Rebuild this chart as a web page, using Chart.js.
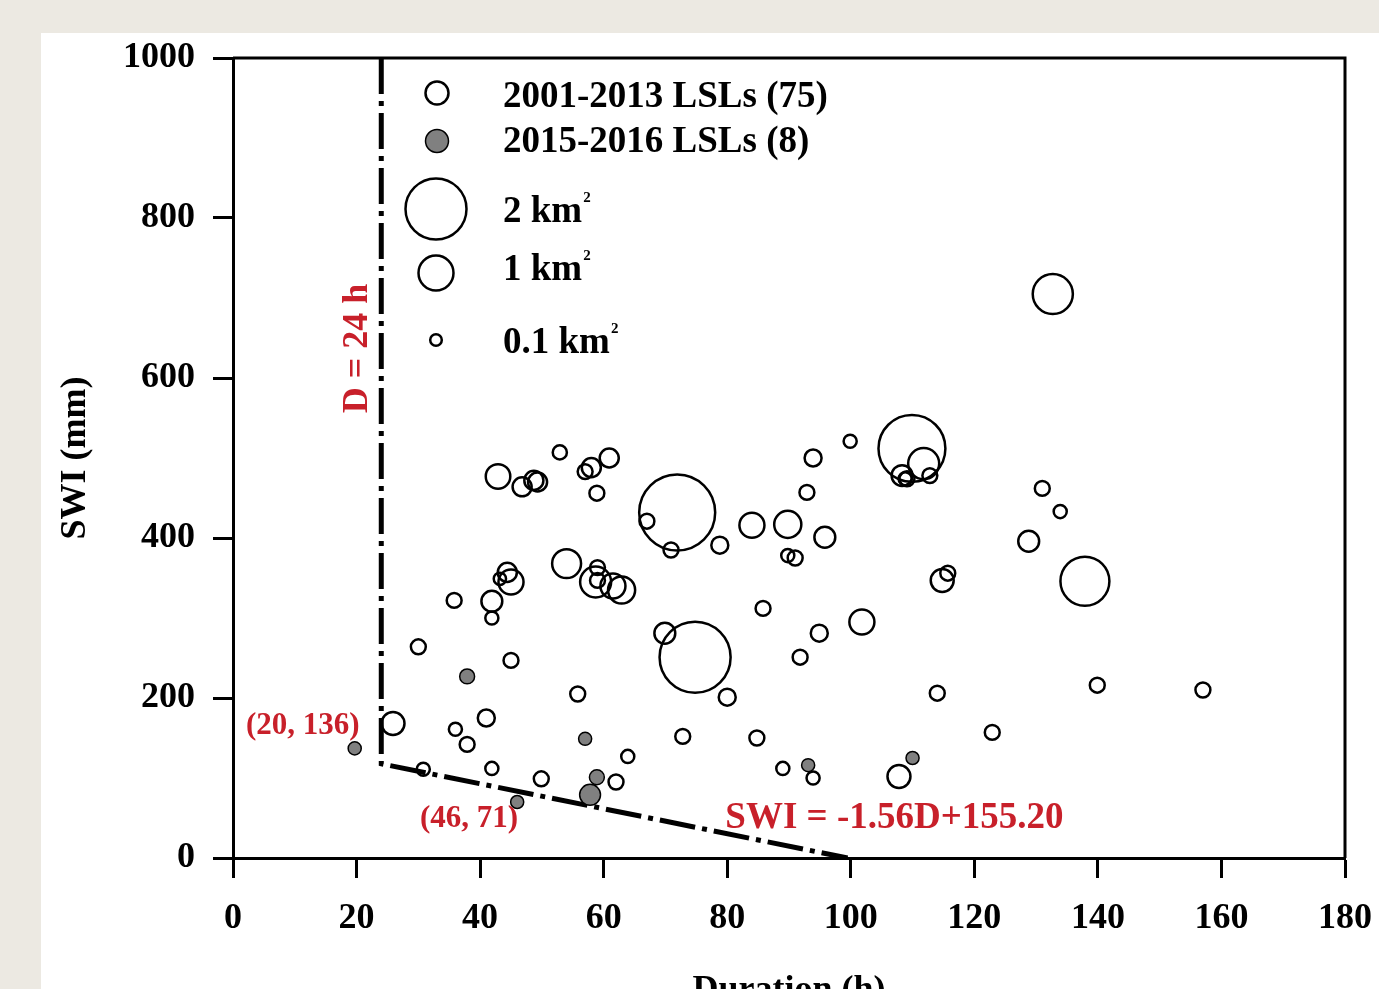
<!DOCTYPE html>
<html>
<head>
<meta charset="utf-8">
<script src="https://cdn.jsdelivr.net/npm/chart.js@4"></script>
<style>
  html, body { margin: 0; padding: 0; overflow: hidden; background: #ece9e2; }
  #panel { position: absolute; left: 41px; top: 33px; right: 0; bottom: 0; background: #fff; }
  #chart { position: absolute; left: 0; top: 0; }
</style>
</head>
<body>
<div id="panel"></div>
<canvas id="chart" width="1379" height="1030"></canvas>
<script>
// 2001-2013 landslides: duration (h), SWI (mm), area (km2)
const openD = [132.7, 109.9, 111.8, 108.3, 109.1, 112.8, 71.9, 74.8, 137.9, 52.9,
  42.9, 46.8, 48.7, 49.3, 57.0, 58.0, 60.9, 58.9, 67.0, 70.9,
  54.0, 59.0, 59.0, 58.7, 61.5, 62.9, 44.4, 43.2, 45.0, 35.8,
  41.9, 41.9, 30.0, 69.9, 25.9, 45.0, 36.0, 37.9, 41.0, 30.8,
  41.9, 49.9, 55.8, 62.0, 63.9, 99.9, 93.9, 92.9, 84.0, 89.8,
  95.8, 78.8, 89.8, 91.0, 85.8, 94.9, 101.8, 91.8, 114.8, 115.7,
  80.0, 114.0, 72.8, 84.8, 89.0, 93.9, 107.8, 122.9, 139.9, 131.0,
  133.9, 128.8, 157.0, 108.8];
const openSWI = [705, 512, 493, 478, 474, 478, 432, 251, 346, 507,
  477, 464, 472, 470, 483, 488, 500, 456, 421, 385,
  368, 363, 347, 345, 340, 335, 357, 349, 345, 322,
  321, 300, 264, 281, 168, 247, 161, 142, 175, 111,
  112, 99, 205, 95, 127, 521, 500, 457, 416, 417,
  401, 391, 378, 375, 312, 281, 295, 251, 347, 356,
  201, 206, 152, 150, 112, 100, 102, 157, 216, 462,
  433, 396, 210, 474];
const openArea = [1.12, 2.15, 0.77, 0.38, 0.15, 0.15, 2.50, 2.31, 1.46, 0.12,
  0.52, 0.31, 0.31, 0.31, 0.15, 0.31, 0.31, 0.15, 0.15, 0.15,
  0.69, 0.15, 0.15, 0.77, 0.54, 0.62, 0.31, 0.05, 0.54, 0.15,
  0.38, 0.08, 0.15, 0.38, 0.46, 0.15, 0.08, 0.15, 0.23, 0.08,
  0.08, 0.15, 0.15, 0.15, 0.08, 0.08, 0.23, 0.15, 0.54, 0.62,
  0.38, 0.23, 0.08, 0.15, 0.15, 0.23, 0.54, 0.15, 0.46, 0.15,
  0.23, 0.15, 0.15, 0.15, 0.08, 0.08, 0.46, 0.15, 0.15, 0.15,
  0.08, 0.38, 0.15, 0.08];

// 2015-2016 landslides
const newD = [19.7, 37.9, 46.0, 57.0, 58.9, 57.8, 93.1, 110.0];
const newSWI = [137, 227, 70, 149, 101, 79, 116, 125];
const newArea = [0.08, 0.15, 0.08, 0.08, 0.15, 0.38, 0.08, 0.08];

// threshold: D = 24 h and SWI = -1.56D + 155.20
const minD = 24;
const slope = -1.56;
const intercept = 155.20;

const legendAreas = [2, 1, 0.1];
const xTicks = [0, 20, 40, 60, 80, 100, 120, 140, 160, 180];
const yTicks = [0, 200, 400, 600, 800, 1000];

const RED = '#c8202a';
const SERIF = '"Liberation Serif", "Times New Roman", serif';

function radiusFor(a) {
  return 5.5 + 13 * a;
}

function bubbles(xs, ys, areas) {
  return xs.map((x, i) => ({ x: x, y: ys[i], r: radiusFor(areas[i]) }));
}

const thresholdLine = [
  { x: minD, y: 1000 },
  { x: minD, y: slope * minD + intercept },
  { x: -intercept / slope, y: 0 }
];

const overlay = {
  id: 'overlay',
  afterDatasetsDraw(chart) {
    const { ctx, chartArea: a, scales: { x, y } } = chart;
    ctx.save();

    // frame top and right
    ctx.strokeStyle = '#000';
    ctx.lineWidth = 3;
    ctx.beginPath();
    ctx.moveTo(a.left, a.top);
    ctx.lineTo(a.right, a.top);
    ctx.lineTo(a.right, a.bottom);
    ctx.stroke();

    // legend
    const cx = a.left + 204;
    const tx = a.left + 270;
    ctx.fillStyle = '#000';
    ctx.textAlign = 'left';
    ctx.textBaseline = 'alphabetic';
    ctx.font = 'bold 37px ' + SERIF;

    ctx.lineWidth = 2.5;
    ctx.beginPath();
    ctx.arc(cx, a.top + 35, 11.5, 0, Math.PI * 2);
    ctx.stroke();
    ctx.fillText('2001-2013 LSLs (75)', tx, a.top + 49);

    ctx.beginPath();
    ctx.arc(cx, a.top + 83, 11.5, 0, Math.PI * 2);
    ctx.fillStyle = '#808080';
    ctx.fill();
    ctx.lineWidth = 1.5;
    ctx.stroke();
    ctx.fillStyle = '#000';
    ctx.fillText('2015-2016 LSLs (8)', tx, a.top + 94);

    const sizeRows = [
      { cy: a.top + 151, base: a.top + 164, label: '2 km' },
      { cy: a.top + 215, base: a.top + 222, label: '1 km' },
      { cy: a.top + 282, base: a.top + 295, label: '0.1 km' }
    ];
    ctx.lineWidth = 2.5;
    sizeRows.forEach((row, i) => {
      ctx.beginPath();
      ctx.arc(cx - 1, row.cy, radiusFor(legendAreas[i]) - 1, 0, Math.PI * 2);
      ctx.stroke();
      ctx.font = 'bold 37px ' + SERIF;
      ctx.fillText(row.label, tx, row.base);
      const w = ctx.measureText(row.label).width;
      ctx.font = 'bold 15px ' + SERIF;
      ctx.fillText('2', tx + w + 1, row.base - 20);
    });

    // red annotations
    ctx.fillStyle = RED;
    ctx.font = 'bold 31px ' + SERIF;
    ctx.textAlign = 'right';
    ctx.fillText('(20, 136)', x.getPixelForValue(20) + 3, y.getPixelForValue(136) - 15);
    ctx.fillText('(46, 71)', x.getPixelForValue(46) + 1, y.getPixelForValue(71) + 26);

    ctx.font = 'bold 37px ' + SERIF;
    ctx.textAlign = 'left';
    ctx.fillText('SWI = -1.56D+155.20', x.getPixelForValue(79.7), y.getPixelForValue(37));

    ctx.translate(x.getPixelForValue(minD) - 14, y.getPixelForValue(637));
    ctx.rotate(-Math.PI / 2);
    ctx.textAlign = 'center';
    ctx.font = 'bold 36px ' + SERIF;
    ctx.fillText('D = 24 h', 0, 0);

    ctx.restore();
  }
};

const tickFont = { family: SERIF, weight: 'bold', size: 36 };
const titleFont = { family: SERIF, weight: 'bold', size: 36 };

new Chart(document.getElementById('chart'), {
  type: 'bubble',
  data: {
    datasets: [
      {
        label: '2015-2016 LSLs (8)',
        data: bubbles(newD, newSWI, newArea),
        backgroundColor: '#808080',
        borderColor: '#000',
        borderWidth: 1.5,
        order: 0
      },
      {
        label: '2001-2013 LSLs (75)',
        data: bubbles(openD, openSWI, openArea),
        backgroundColor: 'rgba(0,0,0,0)',
        borderColor: '#000',
        borderWidth: 2.5,
        order: 1
      },
      {
        type: 'line',
        label: 'threshold',
        data: thresholdLine,
        borderColor: '#000',
        borderWidth: 5,
        borderDash: [36, 7, 5, 7],
        borderCapStyle: 'butt',
        pointRadius: 0,
        fill: false,
        tension: 0,
        order: 2
      }
    ]
  },
  options: {
    responsive: false,
    animation: false,
    events: [],
    layout: { autoPadding: false, padding: { top: 58, right: 34, left: 0, bottom: 0 } },
    plugins: {
      legend: { display: false },
      tooltip: { enabled: false }
    },
    scales: {
      x: {
        type: 'linear',
        min: 0,
        max: 180,
        afterBuildTicks: s => { s.ticks = xTicks.map(v => ({ value: v })); },
        afterFit: s => { s.height = 172; s.paddingLeft = 0; s.paddingRight = 0; },
        ticks: { font: tickFont, color: '#000', padding: 19, maxRotation: 0, callback: v => String(v) },
        grid: { drawOnChartArea: false, drawTicks: true, tickLength: 20, tickWidth: 3, tickColor: '#000' },
        border: { display: true, color: '#000', width: 3 },
        title: { display: true, text: 'Duration (h)', font: titleFont, color: '#000', padding: { top: 0, bottom: 18 } }
      },
      y: {
        type: 'linear',
        min: 0,
        max: 1000,
        afterBuildTicks: s => { s.ticks = yTicks.map(v => ({ value: v })); },
        afterFit: s => { s.width = 233; s.paddingTop = 0; s.paddingBottom = 0; },
        ticks: { font: tickFont, color: '#000', padding: 18, callback: v => String(v) },
        grid: { drawOnChartArea: false, drawTicks: true, tickLength: 20, tickWidth: 3, tickColor: '#000' },
        border: { display: true, color: '#000', width: 3 },
        title: { display: true, text: 'SWI (mm)', font: titleFont, color: '#000', padding: { top: 54, bottom: 0 } }
      }
    }
  },
  plugins: [overlay]
});
</script>
</body>
</html>
